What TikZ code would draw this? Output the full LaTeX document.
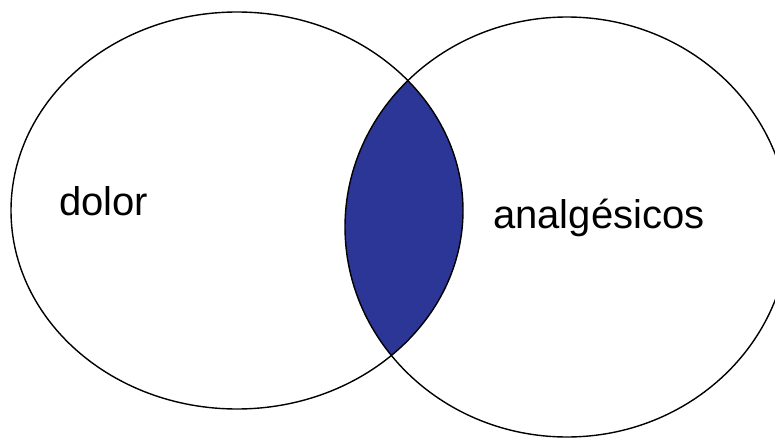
\documentclass[tikz,border=0pt]{standalone}
\usepackage{fontspec}
\setmainfont{Liberation Sans}
\definecolor{lensblue}{RGB}{44,54,150}
\begin{document}
\begin{tikzpicture}[x=1pt,y=-1pt,
  outline/.style={draw=black,line width=1.4pt},
  label/.style={anchor=base west,inner sep=0pt,font=\fontsize{40}{48}\selectfont}]
\useasboundingbox (0,0) rectangle (775,438);
\clip (0,0) rectangle (775,438);
\begin{scope}
  \clip (237,210.5) ellipse [x radius=226pt, y radius=198.5pt];
  \fill[lensblue] (567,227) ellipse [x radius=222pt, y radius=210pt];
\end{scope}
\draw[outline] (237,210.5) ellipse [x radius=226pt, y radius=198.5pt];
\draw[outline] (567,227) ellipse [x radius=222pt, y radius=210pt];
\node[label] (dolor) at (59,215) {dolor};
\node[label] (analg) at (493,228) {analgésicos};
\end{tikzpicture}
\end{document}
